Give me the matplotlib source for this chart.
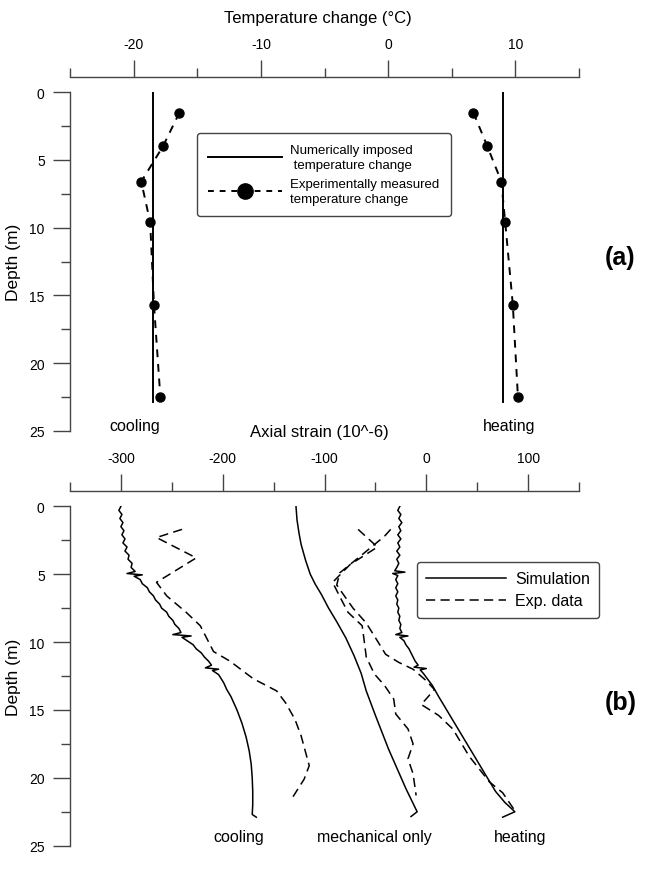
import matplotlib
matplotlib.use("Agg")
import matplotlib.pyplot as plt
from matplotlib.lines import Line2D

plt.rcParams['font.family'] = ['Liberation Sans', 'DejaVu Sans']
plt.rcParams['axes.unicode_minus'] = False

# ---- panel (a): temperature change ----
depth_imposed = [0.0, 22.9]
cool_imposed = [-18.5, -18.5]
heat_imposed = [9.0, 9.0]
depth_meas = [1.5, 4.0, 6.6, 9.6, 15.7, 22.5]
cool_meas = [-16.4, -17.7, -19.4, -18.7, -18.4, -17.9]
heat_meas = [6.7, 7.8, 8.9, 9.2, 9.8, 10.2]

# ---- panel (b): axial strain ----
depth_cool_sim = [0.0, 0.3, 0.6, 0.9, 1.2, 1.5, 1.8, 2.1, 2.4, 2.7, 3.0, 3.3, 3.6, 3.9,
                  4.2, 4.5, 4.8, 4.95, 5.05, 5.15, 5.4, 5.7, 6.0, 6.3, 6.6, 6.9, 7.2,
                  7.5, 7.8, 8.1, 8.4, 8.7, 9.0, 9.3, 9.45, 9.55, 9.65, 9.9, 10.2, 10.5,
                  10.8, 11.1, 11.4, 11.7, 11.9, 12.0, 12.1, 12.4, 13.0, 13.5, 14.0, 15.0,
                  16.0, 17.0, 18.0, 19.0, 20.0, 21.0, 22.0, 22.7, 22.9]
cool_sim = [-300, -302, -299, -301, -298, -300, -297, -299, -296, -298, -294, -296, -292, -293,
            -289, -290, -286, -294, -279, -287, -281, -279, -274, -272, -268, -266, -262,
            -260, -255, -253, -249, -247, -243, -241, -249, -231, -240, -235, -229, -226,
            -221, -218, -214, -211, -217, -204, -210, -204, -199, -196, -192, -186,
            -181, -177, -174, -172, -171, -170.5, -170.5, -171, -167]

depth_cool_exp = [1.7, 2.3, 3.8, 5.6, 6.6, 7.8, 8.8, 10.7, 11.4, 12.7, 13.6, 14.5, 15.7,
                  16.9, 19.1, 20.1, 21.4]
cool_exp = [-240, -265, -226, -265, -255, -236, -222, -209, -193, -170, -147, -138, -129,
            -123, -115, -120, -131]

depth_mech_sim = [0.0, 1.0, 2.0, 2.8, 4.0, 5.0, 5.75, 6.5, 7.5, 8.5, 9.7, 11.0, 12.3, 13.6,
                  15.4, 17.9, 20.8, 22.5, 22.85]
mech_sim = [-128, -127, -125, -123, -118.5, -114, -109, -103, -96, -88, -79, -71, -64, -59,
            -50, -37, -20, -9, -15]

depth_mech_exp = [1.7, 3.0, 4.3, 5.6, 6.5, 7.8, 8.8, 9.9, 11.1, 12.35, 13.2, 14.2, 15.3,
                  16.4, 17.5, 18.6, 19.7, 21.3]
mech_exp = [-67, -48, -75, -92, -86, -77, -63, -61, -59, -51, -41, -32, -30, -18, -13, -18,
            -13, -10]

depth_heat_sim = [0.0, 0.3, 0.6, 0.9, 1.2, 1.5, 1.8, 2.1, 2.4, 2.7, 3.0, 3.3, 3.6, 3.9, 4.2,
                  4.5, 4.75, 4.85, 4.95, 5.1, 5.4, 5.7, 6.0, 6.3, 6.6, 6.9, 7.2, 7.5, 7.8,
                  8.1, 8.4, 8.7, 9.0, 9.3, 9.45, 9.55, 9.65, 9.9, 10.2, 10.5, 10.8, 11.1,
                  11.4, 11.7, 11.85, 11.95, 12.05, 12.3, 12.7, 13.2, 14.0, 15.0, 16.0, 17.0,
                  18.0, 19.0, 20.0, 21.0, 21.8, 22.5, 22.9]
heat_sim = [-26, -28, -25, -27, -24, -27, -25, -28, -25, -28, -26, -29, -26, -29, -27,
            -29, -31, -21, -33, -28, -30, -28, -30, -28, -30, -28, -29, -27, -28,
            -26, -27, -25, -26, -24, -30, -18, -26, -22, -20, -17, -15, -13,
            -11, -8, -12, 0, -6, -3, 1, 6, 12, 20, 28, 36, 44, 52, 60, 68, 77, 87, 75]

depth_heat_exp = [1.7, 2.2, 3.5, 4.9, 5.8, 7.5, 8.6, 9.8, 10.9, 11.5, 12.0, 12.85, 13.5, 14.6,
                  15.4, 16.4, 18.4, 20.3, 21.1, 22.2, 22.6]
heat_exp = [-35, -41, -62, -85, -88, -72, -59, -49, -40, -27, -13, 0, 8, -5, 12, 26, 42, 62,
            75, 85, 88]

W, H = 647, 870
GRAY = '#444444'


def fx(px):
    return px / W


def fy(py):
    return 1 - py / H


def style_axis(ax, xlim, major, minor):
    ax.set_xlim(*xlim)
    ax.set_ylim(25, 0)
    ax.spines['right'].set_visible(False)
    ax.spines['bottom'].set_visible(False)
    ax.spines['top'].set_position(('outward', 11.3))
    for s in ('top', 'left'):
        ax.spines[s].set_color(GRAY)
        ax.spines[s].set_linewidth(1.0)
    ax.xaxis.tick_top()
    ax.set_xticks(major)
    ax.set_xticks(minor, minor=True)
    ax.set_yticks([0, 5, 10, 15, 20, 25])
    ax.set_yticks([2.5, 7.5, 12.5, 17.5, 22.5], minor=True)
    ax.tick_params(which='major', length=12.2, width=1.0, color=GRAY, labelsize=10,
                   direction='out', pad=6)
    ax.tick_params(which='minor', length=6.3, width=1.0, color=GRAY, direction='out')
    ax.patch.set_alpha(0)


fig = plt.figure(figsize=(6.47, 8.70), dpi=100)

# panel (a)
ax1 = fig.add_axes([fx(70), fy(431.7), 509 / W, 338.4 / H])
style_axis(ax1, (-25, 15), [-20, -10, 0, 10], [-25, -15, -5, 5, 15])
ax1.plot(cool_imposed, depth_imposed, color='k', lw=1.4)
ax1.plot(heat_imposed, depth_imposed, color='k', lw=1.4)
ax1.plot(cool_meas, depth_meas, color='k', lw=1.4, dashes=(4, 3.5), marker='o', ms=6.5)
ax1.plot(heat_meas, depth_meas, color='k', lw=1.4, dashes=(4, 3.5), marker='o', ms=6.5)

h_a = [Line2D([], [], color='k', lw=1.4),
       Line2D([], [], color='k', lw=1.4, dashes=(3, 3), marker='o', ms=11)]
leg_a = ax1.legend(h_a, ['Numerically imposed\n temperature change',
                         'Experimentally measured\ntemperature change'],
                   loc='upper left', bbox_to_anchor=(0.250, 0.880), borderaxespad=0,
                   fontsize=9.5, handlelength=5.6, handletextpad=0.6, labelspacing=0.55,
                   borderpad=0.85, fancybox=True, framealpha=1, edgecolor=GRAY)
leg_a.get_frame().set_linewidth(1.0)
for t in leg_a.get_texts():
    t.set_linespacing(1.3)

# panel (b)
ax2 = fig.add_axes([fx(70), fy(846.7), 509 / W, 339.4 / H])
style_axis(ax2, (-350, 150), [-300, -200, -100, 0, 100], [-350, -250, -150, -50, 50, 150])
sim_kw = dict(color='k', lw=1.1)
exp_kw = dict(color='k', lw=1.1, dashes=(6, 3.5))
ax2.plot(cool_sim, depth_cool_sim, **sim_kw)
ax2.plot(mech_sim, depth_mech_sim, **sim_kw)
ax2.plot(heat_sim, depth_heat_sim, **sim_kw)
ax2.plot(cool_exp, depth_cool_exp, **exp_kw)
ax2.plot(mech_exp, depth_mech_exp, **exp_kw)
ax2.plot(heat_exp, depth_heat_exp, **exp_kw)

h_b = [Line2D([], [], **sim_kw), Line2D([], [], **exp_kw)]
leg_b = ax2.legend(h_b, ['Simulation', 'Exp. data'], loc='upper left',
                   bbox_to_anchor=(0.681, 0.837), borderaxespad=0, fontsize=11.5,
                   handlelength=5.0, handletextpad=0.55, labelspacing=0.45, borderpad=0.6,
                   fancybox=True, framealpha=1, edgecolor=GRAY)
leg_b.get_frame().set_linewidth(1.0)

# axis titles and annotations
fig.text(fx(318), fy(19), 'Temperature change (\u00b0C)', ha='center', va='center', fontsize=12)
fig.text(fx(319.5), fy(433), 'Axial strain (10^-6)', ha='center', va='center', fontsize=12)
fig.text(fx(14), fy(262), 'Depth (m)', ha='center', va='center', rotation=90, fontsize=12.5)
fig.text(fx(14), fy(677), 'Depth (m)', ha='center', va='center', rotation=90, fontsize=12.5)

fig.text(fx(135), fy(427), 'cooling', ha='center', va='center', fontsize=11.5)
fig.text(fx(509), fy(427), 'heating', ha='center', va='center', fontsize=11.5)
fig.text(fx(239), fy(838), 'cooling', ha='center', va='center', fontsize=11.5)
fig.text(fx(374.5), fy(838), 'mechanical only', ha='center', va='center', fontsize=11.5)
fig.text(fx(520), fy(838), 'heating', ha='center', va='center', fontsize=11.5)
fig.text(fx(620), fy(258), '(a)', ha='center', va='center', fontsize=18, fontweight='bold')
fig.text(fx(621), fy(703), '(b)', ha='center', va='center', fontsize=18, fontweight='bold')

fig.savefig('out.png', dpi=100)
